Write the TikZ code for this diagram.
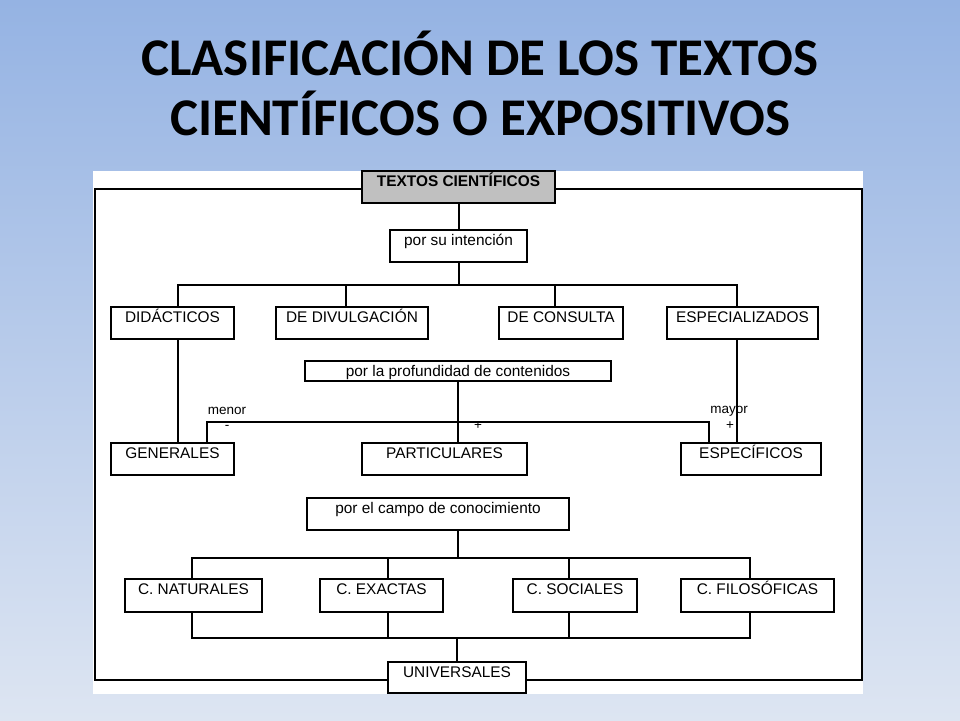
\documentclass[tikz,border=0pt]{standalone}
\usepackage{fontspec}
\setmainfont{Liberation Sans}
\newfontfamily\titulofont{Carlito}
\usepackage{tikz}
\usetikzlibrary{backgrounds}

\definecolor{fondoarriba}{RGB}{149,179,227}
\definecolor{fondoabajo}{RGB}{221,229,242}
\definecolor{gris}{RGB}{192,192,192}

\begin{document}
\begin{tikzpicture}[x=1pt,y=-1pt,
	caja/.style={draw, fill=white, line width=1.3pt, inner sep=0pt, text height=15pt, text depth=17pt, font=\fontsize{15.4}{18}\selectfont},
	linea/.style={line width=2pt},
	etiq/.style={inner sep=0pt, font=\fontsize{13.5}{16}\selectfont},
	titulo/.style={inner sep=0pt, font=\titulofont\bfseries\fontsize{53}{60}\selectfont}]
	
	\useasboundingbox (0,0) rectangle (960,720);
	\shade[top color=fondoarriba, bottom color=fondoabajo] (0,0) rectangle (960,720);
	
	\node[titulo, anchor=base] (tit1) at (480,75) {CLASIFICACIÓN DE LOS TEXTOS};
	\node[titulo, anchor=base] (tit2) at (480,135) {CIENTÍFICOS O EXPOSITIVOS};
	
	\fill[white] (93,171) rectangle (863,694);
	\draw[linea] (95,189) rectangle (862,680);
	
	\node[caja, fill=gris, minimum width=193, font=\bfseries\fontsize{15.4}{18}\selectfont] (textos) at (458.5,187) {TEXTOS CIENTÍFICOS};
	\node[caja, minimum width=137] (intencion) at (458.5,246) {por su intención};
	
	\node[caja, minimum width=123] (didac) at (172.5,323) {DIDÁCTICOS};
	\node[caja, minimum width=152] (divulg) at (352,323) {DE DIVULGACIÓN};
	\node[caja, minimum width=124] (consulta) at (561,323) {DE CONSULTA};
	\node[caja, minimum width=151] (especial) at (742.5,323) {ESPECIALIZADOS};
	
	\node[caja, minimum width=306, text depth=5pt] (profund) at (458,371) {por la profundidad de contenidos};
	
	\node[caja, minimum width=123] (generales) at (172.5,459) {GENERALES};
	\node[caja, minimum width=165] (particulares) at (444.5,459) {PARTICULARES};
	\node[caja, minimum width=140] (especificos) at (751,459) {ESPECÍFICOS};
	
	\node[caja, minimum width=262] (campo) at (438,514) {por el campo de conocimiento};
	
	\node[caja, minimum width=137, text depth=18pt] (naturales) at (193.5,595.5) {C. NATURALES};
	\node[caja, minimum width=123, text depth=18pt] (exactas) at (381.5,595.5) {C. EXACTAS};
	\node[caja, minimum width=124, text depth=18pt] (sociales) at (575,595.5) {C. SOCIALES};
	\node[caja, minimum width=153, text depth=18pt] (filosof) at (757.5,595.5) {C. FILOSÓFICAS};
	
	\node[caja, minimum width=138, text depth=16pt] (universales) at (457,677.5) {UNIVERSALES};
	
	\node[etiq] (menor) at (227,411) {menor};
	\node[etiq] (menos) at (227,427) {-};
	\node[etiq] (mas) at (478,426) {+};
	\node[etiq] (mayor) at (729,411) {mayor};
	\node[etiq] (masmayor) at (730,426) {+};
	
	\draw[linea] (textos) -- (intencion);
	\draw[linea] (intencion.south) -- ++(0,22) coordinate (b1);
	\draw[linea] ([xshift=5.5pt]didac.north) |- (b1) -| ([xshift=-5.5pt]especial.north);
	\draw[linea] ([xshift=-6pt]divulg.north) -- ([xshift=-6pt]divulg.north |- b1);
	\draw[linea] ([xshift=-6pt]consulta.north) -- ([xshift=-6pt]consulta.north |- b1);
	
	\draw[linea] ([xshift=5.5pt]didac.south) -- ([xshift=5.5pt]generales.north);
	\draw[linea] ([xshift=-5.5pt]especial.south) -- ([xshift=-14pt]especificos.north);
	\draw[linea] (profund.south) -- (profund.south |- particulares.north);
	\draw[linea] (profund.south) ++(0,40) coordinate (b2);
	\draw[linea] ([xshift=34.5pt]generales.north) |- (b2) -| ([xshift=-42pt]especificos.north);
	
	\draw[linea] ([xshift=20pt]campo.south) -- ++(0,27) coordinate (b3);
	\draw[linea] ([xshift=-1.5pt]naturales.north) |- (b3) -| ([xshift=-7.5pt]filosof.north);
	\draw[linea] ([xshift=6.5pt]exactas.north) -- ([xshift=6.5pt]exactas.north |- b3);
	\draw[linea] ([xshift=-6pt]sociales.north) -- ([xshift=-6pt]sociales.north |- b3);
	
	\draw[linea] (universales.north) -- ++(0,-23) coordinate (b4);
	\draw[linea] ([xshift=-1.5pt]naturales.south) |- (b4) -| ([xshift=-7.5pt]filosof.south);
	\draw[linea] ([xshift=6.5pt]exactas.south) -- ([xshift=6.5pt]exactas.south |- b4);
	\draw[linea] ([xshift=-6pt]sociales.south) -- ([xshift=-6pt]sociales.south |- b4);
	
\end{tikzpicture}
\end{document}
